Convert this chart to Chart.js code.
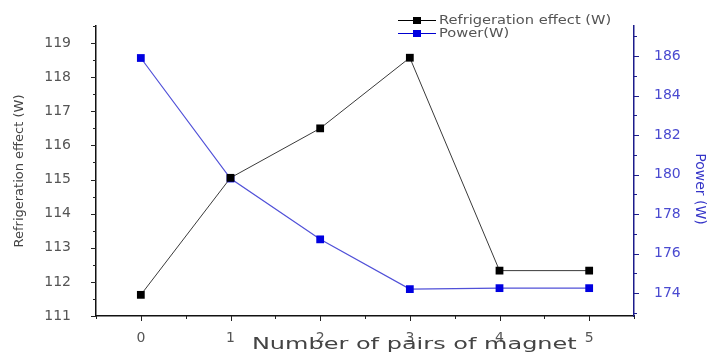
<!DOCTYPE html>
<html>
<head>
<meta charset="utf-8">
<script src="https://cdn.jsdelivr.net/npm/chart.js@4.4.1/dist/chart.umd.min.js"></script>
<style>
  html, body { margin: 0; padding: 0; background: #fff; }
  #wrap { width: 709px; height: 354px; }
</style>
</head>
<body>
<div id="wrap"><canvas id="magnetChart" width="709" height="354"></canvas></div>
<script>
// data
const pairs = [0, 1, 2, 3, 4, 5];
const refrigeration = [111.62, 115.05, 116.5, 118.57, 112.33, 112.33];
const power = [185.9, 179.8, 176.72, 174.2, 174.25, 174.25];

const xTicks = [0, 1, 2, 3, 4, 5];
const leftTicks = [111, 112, 113, 114, 115, 116, 117, 118, 119];
const rightTicks = [174, 176, 178, 180, 182, 184, 186];

const xTitle = 'Number of pairs of magnet';
const rightTitle = 'Power (W)';

const font = "'DejaVu Sans', sans-serif";
const navy = '#1c1c8c';

// the original picture is stretched sideways, so its text is wide
function wideText(c, text, x, y, stretch) {
    c.save();
    c.translate(x, y);
    c.scale(stretch, 1);
    c.fillText(text, 0, 0);
    c.restore();
}

// small tick marks, major and minor, in the style of the original plot
const tickMarks = {
    id: 'tickMarks',
    afterDraw(chart) {
        const c = chart.ctx;
        const {x, y, y1} = chart.scales;
        const area = chart.chartArea;
        c.save();
        c.lineWidth = 1;

        c.strokeStyle = '#222';
        for (let v = -0.5; v <= 5.5; v += 0.5) {
            const px = Math.round(x.getPixelForValue(v)) + 0.5;
            const len = Number.isInteger(v) ? 5 : 3;
            c.beginPath();
            c.moveTo(px, area.bottom);
            c.lineTo(px, area.bottom + len);
            c.stroke();
        }
        for (let v = 111; v <= 119.5; v += 0.5) {
            const py = Math.round(y.getPixelForValue(v)) + 0.5;
            const len = Number.isInteger(v) ? 5 : 3;
            c.beginPath();
            c.moveTo(area.left, py);
            c.lineTo(area.left - len, py);
            c.stroke();
        }

        c.strokeStyle = navy;
        for (let v = 173; v <= 187; v += 1) {
            const py = Math.round(y1.getPixelForValue(v)) + 0.5;
            const len = v % 2 === 0 ? 5 : 3;
            c.beginPath();
            c.moveTo(area.right, py);
            c.lineTo(area.right + len, py);
            c.stroke();
        }

        // axis titles sit a bit off-centre in the original, so place them here
        c.textAlign = 'center';
        c.textBaseline = 'middle';
        c.fillStyle = '#444';
        c.font = "15px " + font;
        wideText(c, xTitle, x.getPixelForValue(3.05), 345, 1.6);

        c.translate(700, 189);
        c.rotate(Math.PI / 2);
        c.fillStyle = '#3535c8';
        c.font = "14px " + font;
        c.fillText(rightTitle, 0, 0);
        c.restore();
    }
};

// legend drawn as line - square - line, like Origin does
const originLegend = {
    id: 'originLegend',
    afterDraw(chart) {
        const c = chart.ctx;
        c.save();
        c.font = "12px " + font;
        c.textBaseline = 'middle';
        c.textAlign = 'left';
        chart.data.datasets.forEach((ds, i) => {
            const ly = 20 + i * 13;
            c.strokeStyle = ds.legendLine;
            c.lineWidth = 1;
            c.beginPath();
            c.moveTo(398, ly + 0.5);
            c.lineTo(436, ly + 0.5);
            c.stroke();
            c.fillStyle = ds.pointBackgroundColor;
            c.fillRect(413, ly - 3, 8, 7);
            c.fillStyle = '#555';
            wideText(c, ds.label, 439, ly + 1, 1.22);
        });
        c.restore();
    }
};

const ctx = document.getElementById('magnetChart');

new Chart(ctx, {
    type: 'line',
    data: {
        labels: pairs,
        datasets: [{
            label: 'Refrigeration effect (W)',
            data: pairs.map((p, i) => ({x: p, y: refrigeration[i]})),
            yAxisID: 'y',
            borderColor: '#3a3a3a',
            legendLine: '#000',
            borderWidth: 1,
            pointStyle: 'rect',
            pointRadius: 5.5,
            pointBackgroundColor: '#000',
            pointBorderColor: '#000',
            pointBorderWidth: 0,
            tension: 0
        }, {
            label: 'Power(W)',
            data: pairs.map((p, i) => ({x: p, y: power[i]})),
            yAxisID: 'y1',
            borderColor: '#5050d8',
            legendLine: '#0000d0',
            borderWidth: 1.2,
            pointStyle: 'rect',
            pointRadius: 5.5,
            pointBackgroundColor: '#0000e0',
            pointBorderColor: '#0000e0',
            pointBorderWidth: 0,
            tension: 0
        }]
    },
    options: {
        responsive: false,
        animation: false,
        layout: {
            padding: {top: 26, left: 0, right: 0, bottom: 0}
        },
        plugins: {
            legend: {display: false},
            tooltip: {enabled: false}
        },
        scales: {
            x: {
                type: 'linear',
                min: -0.5,
                max: 5.5,
                grid: {display: false},
                border: {display: true, color: '#111', width: 1.5},
                afterBuildTicks: function (scale) {
                    scale.ticks = xTicks.map(v => ({value: v}));
                },
                afterFit: function (scale) {
                    scale.height = 38;
                },
                ticks: {
                    padding: 6,
                    color: '#555',
                    font: {family: font, size: 14}
                }
            },
            y: {
                position: 'left',
                min: 111,
                max: 119.5,
                grid: {display: false},
                border: {display: true, color: '#111', width: 1.5},
                afterBuildTicks: function (scale) {
                    scale.ticks = leftTicks.map(v => ({value: v}));
                },
                afterFit: function (scale) {
                    scale.width = 96;
                },
                ticks: {
                    padding: 17,
                    color: '#555',
                    font: {family: font, size: 14}
                },
                title: {
                    display: true,
                    text: 'Refrigeration effect (W)',
                    color: '#444',
                    padding: {top: 12, bottom: 0},
                    font: {family: font, size: 13}
                }
            },
            y1: {
                position: 'right',
                min: 172.84,
                max: 187.52,
                grid: {display: false},
                border: {display: true, color: navy, width: 1.5},
                afterBuildTicks: function (scale) {
                    scale.ticks = rightTicks.map(v => ({value: v}));
                },
                afterFit: function (scale) {
                    scale.width = 75;
                },
                ticks: {
                    padding: 12,
                    color: '#4a4ad0',
                    font: {family: font, size: 14}
                }
            }
        }
    },
    plugins: [tickMarks, originLegend]
});
</script>
</body>
</html>
